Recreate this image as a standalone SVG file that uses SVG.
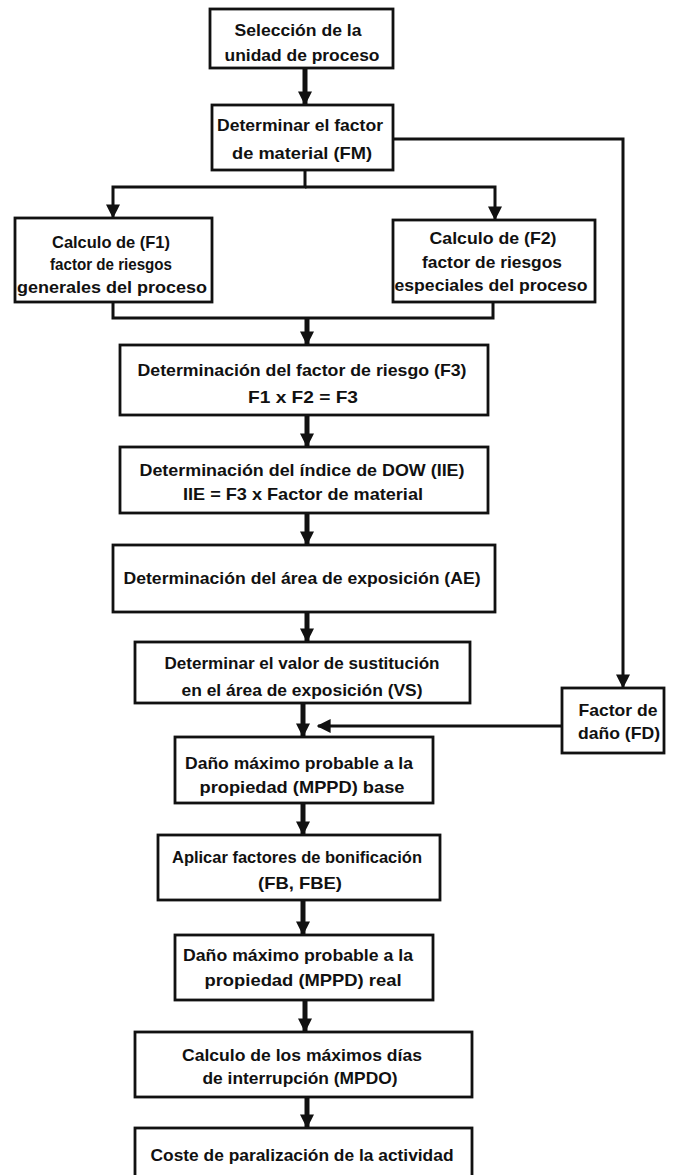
<svg xmlns="http://www.w3.org/2000/svg" width="675" height="1175" viewBox="0 0 675 1175">
<defs>
<style>
.box{fill:#fff;stroke:#111;stroke-width:2.8}
.t{font-family:"Liberation Sans",Arial,sans-serif;font-weight:bold;font-size:16.5px;fill:#111;text-anchor:middle;dominant-baseline:central}
.thick{stroke:#111;stroke-width:5;fill:none}
.thin{stroke:#111;stroke-width:3;fill:none}
</style>
<marker id="ah" viewBox="0 0 10 10" refX="9" refY="5" markerUnits="userSpaceOnUse" markerWidth="14" markerHeight="15" orient="auto">
<path d="M0,0 L10,5 L0,10 Z" fill="#111"/>
</marker>
</defs>
<rect width="675" height="1175" fill="#fff"/>
<g id="connectors">
<line class="thick" x1="305" y1="68" x2="305" y2="104" marker-end="url(#ah)"/>
<polyline class="thin" points="305,170 305,187 113,187 113,217" marker-end="url(#ah)"/>
<polyline class="thin" points="305,187 495,187 495,219" marker-end="url(#ah)"/>
<polyline class="thin" points="393,139 623,139 623,687" marker-end="url(#ah)"/>
<polyline class="thin" points="113,302 113,318 493,318 493,302"/>
<line class="thick" x1="307" y1="318" x2="307" y2="344" marker-end="url(#ah)"/>
<line class="thick" x1="307" y1="415" x2="307" y2="446" marker-end="url(#ah)"/>
<line class="thick" x1="307" y1="513" x2="307" y2="544" marker-end="url(#ah)"/>
<line class="thick" x1="307" y1="612" x2="307" y2="641" marker-end="url(#ah)"/>
<line class="thick" x1="303" y1="703" x2="303" y2="736" marker-end="url(#ah)"/>
<line class="thin" x1="562" y1="726" x2="318" y2="726" marker-end="url(#ah)"/>
<line class="thick" x1="303" y1="803" x2="303" y2="834" marker-end="url(#ah)"/>
<line class="thick" x1="303" y1="900" x2="303" y2="934" marker-end="url(#ah)"/>
<line class="thick" x1="305" y1="1000" x2="305" y2="1031" marker-end="url(#ah)"/>
<line class="thick" x1="307" y1="1097" x2="307" y2="1127" marker-end="url(#ah)"/>
</g>
<g id="n1"><rect class="box" x="210" y="9" width="183" height="59"/>
<text class="t" x="298" y="30" textLength="127" lengthAdjust="spacingAndGlyphs">Selección de la</text>
<text class="t" x="302" y="55" textLength="155" lengthAdjust="spacingAndGlyphs">unidad de proceso</text></g>
<g id="n2"><rect class="box" x="212" y="105" width="181" height="65"/>
<text class="t" x="300" y="125" textLength="166" lengthAdjust="spacingAndGlyphs">Determinar el factor</text>
<text class="t" x="302" y="153" textLength="140" lengthAdjust="spacingAndGlyphs">de material (FM)</text></g>
<g id="n3"><rect class="box" x="15" y="218" width="197" height="84"/>
<text class="t" x="111" y="242" textLength="118" lengthAdjust="spacingAndGlyphs">Calculo de (F1)</text>
<text class="t" x="111" y="264" textLength="122" lengthAdjust="spacingAndGlyphs">factor de riesgos</text>
<text class="t" x="112" y="287" textLength="190" lengthAdjust="spacingAndGlyphs">generales del proceso</text></g>
<g id="n4"><rect class="box" x="393" y="220" width="202" height="82"/>
<text class="t" x="493" y="238" textLength="127" lengthAdjust="spacingAndGlyphs">Calculo de (F2)</text>
<text class="t" x="492" y="262" textLength="140" lengthAdjust="spacingAndGlyphs">factor de riesgos</text>
<text class="t" x="491" y="285" textLength="193" lengthAdjust="spacingAndGlyphs">especiales del proceso</text></g>
<g id="n5"><rect class="box" x="120" y="345" width="368" height="70"/>
<text class="t" x="302" y="370" textLength="329" lengthAdjust="spacingAndGlyphs">Determinación del factor de riesgo (F3)</text>
<text class="t" x="303" y="397" textLength="110" lengthAdjust="spacingAndGlyphs">F1 x F2 = F3</text></g>
<g id="n6"><rect class="box" x="120" y="447" width="368" height="66"/>
<text class="t" x="302" y="470" textLength="325" lengthAdjust="spacingAndGlyphs">Determinación del índice de DOW (IIE)</text>
<text class="t" x="303" y="494" textLength="240" lengthAdjust="spacingAndGlyphs">IIE = F3 x Factor de material</text></g>
<g id="n7"><rect class="box" x="113" y="545" width="382" height="67"/>
<text class="t" x="302" y="578" textLength="357" lengthAdjust="spacingAndGlyphs">Determinación del área de exposición (AE)</text></g>
<g id="n8"><rect class="box" x="135" y="642" width="335" height="61"/>
<text class="t" x="302" y="663" textLength="275" lengthAdjust="spacingAndGlyphs">Determinar el valor de sustitución</text>
<text class="t" x="302" y="690" textLength="241" lengthAdjust="spacingAndGlyphs">en el área de exposición (VS)</text></g>
<g id="n9"><rect class="box" x="562" y="688" width="102" height="65"/>
<text class="t" x="618" y="710" textLength="79" lengthAdjust="spacingAndGlyphs">Factor de</text>
<text class="t" x="619" y="733" textLength="82" lengthAdjust="spacingAndGlyphs">daño (FD)</text></g>
<g id="n10"><rect class="box" x="175" y="737" width="258" height="66"/>
<text class="t" x="299" y="763" textLength="228" lengthAdjust="spacingAndGlyphs">Daño máximo probable a la</text>
<text class="t" x="302" y="787" textLength="205" lengthAdjust="spacingAndGlyphs">propiedad (MPPD) base</text></g>
<g id="n11"><rect class="box" x="158" y="835" width="282" height="65"/>
<text class="t" x="297" y="857" textLength="250" lengthAdjust="spacingAndGlyphs">Aplicar factores de bonificación</text>
<text class="t" x="300" y="883" textLength="84" lengthAdjust="spacingAndGlyphs">(FB, FBE)</text></g>
<g id="n12"><rect class="box" x="175" y="935" width="258" height="65"/>
<text class="t" x="298" y="955" textLength="230" lengthAdjust="spacingAndGlyphs">Daño máximo probable a la</text>
<text class="t" x="303" y="980" textLength="197" lengthAdjust="spacingAndGlyphs">propiedad (MPPD) real</text></g>
<g id="n13"><rect class="box" x="135" y="1032" width="337" height="65"/>
<text class="t" x="302" y="1055" textLength="240" lengthAdjust="spacingAndGlyphs">Calculo de los máximos días</text>
<text class="t" x="300" y="1078" textLength="195" lengthAdjust="spacingAndGlyphs">de interrupción (MPDO)</text></g>
<g id="n14"><rect class="box" x="135" y="1128" width="337" height="60"/>
<text class="t" x="302" y="1155" textLength="303" lengthAdjust="spacingAndGlyphs">Coste de paralización de la actividad</text></g>
</svg>
